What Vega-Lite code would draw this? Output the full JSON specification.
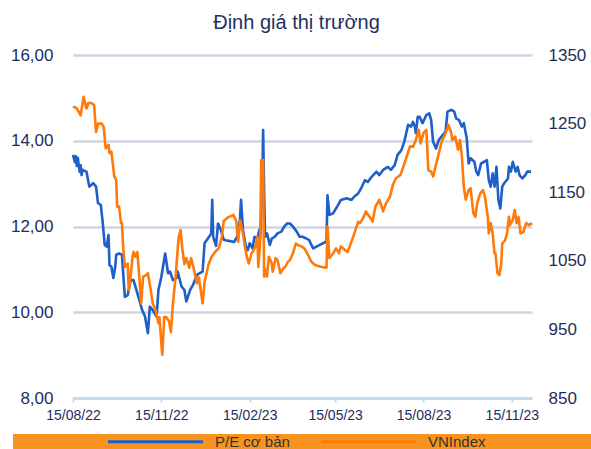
{
  "$schema": "https://vega.github.io/schema/vega-lite/v6.json",
  "width": 459,
  "height": 343,
  "autosize": {"type": "none"},
  "padding": {"left": 73, "top": 55, "right": 59, "bottom": 51},
  "background": "white",
  "title": {"text": "Định giá thị trường", "fontSize": 20, "font": "Liberation Sans", "fontWeight": "normal", "color": "#1f3060", "offset": 13, "anchor": "middle", "dx": -6},
  "datasets": {
    "pe": [
      {"date": "2022-08-15", "pe": 13.67}, {"date": "2022-08-17", "pe": 13.5}, {"date": "2022-08-18", "pe": 13.64}, {"date": "2022-08-19", "pe": 13.41}, {"date": "2022-08-20", "pe": 13.6}, {"date": "2022-08-22", "pe": 13.27}, {"date": "2022-08-23", "pe": 13.43}, {"date": "2022-08-24", "pe": 13.2}, {"date": "2022-08-25", "pe": 13.32}, {"date": "2022-08-29", "pe": 13.28},
      {"date": "2022-09-01", "pe": 12.93}, {"date": "2022-09-03", "pe": 12.97}, {"date": "2022-09-05", "pe": 13.01}, {"date": "2022-09-08", "pe": 12.93}, {"date": "2022-09-10", "pe": 12.55}, {"date": "2022-09-13", "pe": 12.5}, {"date": "2022-09-15", "pe": 12.08}, {"date": "2022-09-17", "pe": 11.57}, {"date": "2022-09-19", "pe": 11.53}, {"date": "2022-09-21", "pe": 11.8}, {"date": "2022-09-22", "pe": 11.1}, {"date": "2022-09-24", "pe": 11.06}, {"date": "2022-09-26", "pe": 10.8}, {"date": "2022-09-28", "pe": 11.06}, {"date": "2022-09-29", "pe": 11.34},
      {"date": "2022-10-02", "pe": 11.37}, {"date": "2022-10-05", "pe": 11.34}, {"date": "2022-10-06", "pe": 10.99}, {"date": "2022-10-08", "pe": 10.36}, {"date": "2022-10-11", "pe": 10.4}, {"date": "2022-10-14", "pe": 10.75}, {"date": "2022-10-17", "pe": 10.75}, {"date": "2022-10-20", "pe": 10.52}, {"date": "2022-10-24", "pe": 10.21}, {"date": "2022-10-26", "pe": 10.05}, {"date": "2022-10-29", "pe": 9.9},
      {"date": "2022-11-01", "pe": 9.51}, {"date": "2022-11-03", "pe": 10.13}, {"date": "2022-11-06", "pe": 10.05}, {"date": "2022-11-10", "pe": 9.9}, {"date": "2022-11-12", "pe": 10.52}, {"date": "2022-11-15", "pe": 10.83}, {"date": "2022-11-19", "pe": 11.37}, {"date": "2022-11-22", "pe": 10.91}, {"date": "2022-11-24", "pe": 10.95}, {"date": "2022-11-27", "pe": 10.75},
      {"date": "2022-12-01", "pe": 10.8}, {"date": "2022-12-02", "pe": 10.95}, {"date": "2022-12-06", "pe": 10.6}, {"date": "2022-12-09", "pe": 10.52}, {"date": "2022-12-11", "pe": 10.25}, {"date": "2022-12-15", "pe": 10.52}, {"date": "2022-12-18", "pe": 10.64}, {"date": "2022-12-22", "pe": 10.87}, {"date": "2022-12-25", "pe": 10.91}, {"date": "2022-12-28", "pe": 10.95}, {"date": "2022-12-30", "pe": 11.61},
      {"date": "2023-01-03", "pe": 11.74}, {"date": "2023-01-06", "pe": 11.84}, {"date": "2023-01-07", "pe": 12.62}, {"date": "2023-01-08", "pe": 11.76}, {"date": "2023-01-11", "pe": 11.55}, {"date": "2023-01-13", "pe": 12.07}, {"date": "2023-01-16", "pe": 11.92}, {"date": "2023-01-19", "pe": 11.69}, {"date": "2023-01-23", "pe": 11.67}, {"date": "2023-01-30", "pe": 11.64},
      {"date": "2023-02-02", "pe": 11.77}, {"date": "2023-02-05", "pe": 12.19}, {"date": "2023-02-06", "pe": 12.62}, {"date": "2023-02-08", "pe": 11.92}, {"date": "2023-02-11", "pe": 11.53}, {"date": "2023-02-13", "pe": 11.45}, {"date": "2023-02-15", "pe": 11.61}, {"date": "2023-02-18", "pe": 11.49}, {"date": "2023-02-20", "pe": 11.76}, {"date": "2023-02-23", "pe": 11.72}, {"date": "2023-02-25", "pe": 11.92}, {"date": "2023-02-26", "pe": 11.76}, {"date": "2023-02-28", "pe": 12.85},
      {"date": "2023-03-01", "pe": 14.25}, {"date": "2023-03-02", "pe": 12.85}, {"date": "2023-03-03", "pe": 11.76}, {"date": "2023-03-05", "pe": 11.84}, {"date": "2023-03-08", "pe": 11.57}, {"date": "2023-03-10", "pe": 11.72}, {"date": "2023-03-13", "pe": 11.76}, {"date": "2023-03-16", "pe": 11.84}, {"date": "2023-03-20", "pe": 11.88}, {"date": "2023-03-23", "pe": 12.0}, {"date": "2023-03-26", "pe": 12.07}, {"date": "2023-03-29", "pe": 12.07},
      {"date": "2023-04-01", "pe": 12.0}, {"date": "2023-04-05", "pe": 11.88}, {"date": "2023-04-08", "pe": 11.76}, {"date": "2023-04-11", "pe": 11.76}, {"date": "2023-04-15", "pe": 11.72}, {"date": "2023-04-18", "pe": 11.68}, {"date": "2023-04-22", "pe": 11.49}, {"date": "2023-04-29", "pe": 11.57},
      {"date": "2023-05-06", "pe": 11.65}, {"date": "2023-05-07", "pe": 12.73}, {"date": "2023-05-09", "pe": 12.27}, {"date": "2023-05-13", "pe": 12.31}, {"date": "2023-05-18", "pe": 12.5}, {"date": "2023-05-21", "pe": 12.62}, {"date": "2023-05-27", "pe": 12.66},
      {"date": "2023-06-01", "pe": 12.62}, {"date": "2023-06-04", "pe": 12.7}, {"date": "2023-06-08", "pe": 12.77}, {"date": "2023-06-11", "pe": 12.89}, {"date": "2023-06-15", "pe": 13.08}, {"date": "2023-06-18", "pe": 13.04}, {"date": "2023-06-22", "pe": 13.16}, {"date": "2023-06-27", "pe": 13.28}, {"date": "2023-06-30", "pe": 13.2},
      {"date": "2023-07-04", "pe": 13.32}, {"date": "2023-07-09", "pe": 13.39}, {"date": "2023-07-12", "pe": 13.32}, {"date": "2023-07-16", "pe": 13.43}, {"date": "2023-07-19", "pe": 13.67}, {"date": "2023-07-23", "pe": 13.78}, {"date": "2023-07-26", "pe": 13.98}, {"date": "2023-07-30", "pe": 14.37},
      {"date": "2023-08-02", "pe": 14.33}, {"date": "2023-08-04", "pe": 14.44}, {"date": "2023-08-06", "pe": 14.33}, {"date": "2023-08-07", "pe": 14.18}, {"date": "2023-08-09", "pe": 14.56}, {"date": "2023-08-11", "pe": 14.56}, {"date": "2023-08-14", "pe": 14.41}, {"date": "2023-08-18", "pe": 14.6}, {"date": "2023-08-21", "pe": 14.64}, {"date": "2023-08-23", "pe": 14.48}, {"date": "2023-08-25", "pe": 13.98}, {"date": "2023-08-28", "pe": 13.82}, {"date": "2023-08-31", "pe": 14.02},
      {"date": "2023-09-04", "pe": 14.13}, {"date": "2023-09-07", "pe": 14.21}, {"date": "2023-09-09", "pe": 14.68}, {"date": "2023-09-13", "pe": 14.72}, {"date": "2023-09-16", "pe": 14.68}, {"date": "2023-09-18", "pe": 14.52}, {"date": "2023-09-21", "pe": 14.48}, {"date": "2023-09-24", "pe": 14.33}, {"date": "2023-09-26", "pe": 14.41}, {"date": "2023-09-29", "pe": 14.06},
      {"date": "2023-10-01", "pe": 13.47}, {"date": "2023-10-03", "pe": 13.59}, {"date": "2023-10-07", "pe": 13.51}, {"date": "2023-10-09", "pe": 13.28}, {"date": "2023-10-11", "pe": 13.2}, {"date": "2023-10-14", "pe": 13.47}, {"date": "2023-10-17", "pe": 13.51}, {"date": "2023-10-20", "pe": 13.55}, {"date": "2023-10-22", "pe": 13.08}, {"date": "2023-10-24", "pe": 12.93}, {"date": "2023-10-26", "pe": 13.24}, {"date": "2023-10-28", "pe": 12.93}, {"date": "2023-10-30", "pe": 13.39},
      {"date": "2023-11-01", "pe": 12.62}, {"date": "2023-11-03", "pe": 12.42}, {"date": "2023-11-05", "pe": 12.93}, {"date": "2023-11-07", "pe": 13.01}, {"date": "2023-11-11", "pe": 13.12}, {"date": "2023-11-12", "pe": 13.39}, {"date": "2023-11-14", "pe": 13.28}, {"date": "2023-11-16", "pe": 13.51}, {"date": "2023-11-19", "pe": 13.28}, {"date": "2023-11-21", "pe": 13.39}, {"date": "2023-11-23", "pe": 13.2}, {"date": "2023-11-26", "pe": 13.12}, {"date": "2023-11-29", "pe": 13.2},
      {"date": "2023-12-01", "pe": 13.28}, {"date": "2023-12-05", "pe": 13.28}
    ],
    "vni": [
      {"date": "2022-08-15", "vni": 1275}, {"date": "2022-08-19", "vni": 1272}, {"date": "2022-08-23", "vni": 1262}, {"date": "2022-08-26", "vni": 1289}, {"date": "2022-08-29", "vni": 1272}, {"date": "2022-08-31", "vni": 1280},
      {"date": "2022-09-03", "vni": 1280}, {"date": "2022-09-06", "vni": 1277}, {"date": "2022-09-08", "vni": 1238}, {"date": "2022-09-10", "vni": 1250}, {"date": "2022-09-14", "vni": 1250}, {"date": "2022-09-16", "vni": 1245}, {"date": "2022-09-18", "vni": 1214}, {"date": "2022-09-21", "vni": 1219}, {"date": "2022-09-22", "vni": 1207}, {"date": "2022-09-24", "vni": 1209}, {"date": "2022-09-27", "vni": 1173}, {"date": "2022-09-29", "vni": 1168}, {"date": "2022-09-30", "vni": 1129},
      {"date": "2022-10-02", "vni": 1129}, {"date": "2022-10-04", "vni": 1105}, {"date": "2022-10-05", "vni": 1105}, {"date": "2022-10-06", "vni": 1075}, {"date": "2022-10-08", "vni": 1041}, {"date": "2022-10-11", "vni": 1046}, {"date": "2022-10-12", "vni": 1007}, {"date": "2022-10-14", "vni": 1027}, {"date": "2022-10-16", "vni": 1056}, {"date": "2022-10-17", "vni": 1063}, {"date": "2022-10-19", "vni": 1056}, {"date": "2022-10-21", "vni": 1063}, {"date": "2022-10-23", "vni": 1027}, {"date": "2022-10-25", "vni": 988}, {"date": "2022-10-27", "vni": 1027}, {"date": "2022-10-30", "vni": 1029},
      {"date": "2022-11-01", "vni": 1032}, {"date": "2022-11-04", "vni": 1007}, {"date": "2022-11-06", "vni": 988}, {"date": "2022-11-09", "vni": 978}, {"date": "2022-11-12", "vni": 959}, {"date": "2022-11-13", "vni": 968}, {"date": "2022-11-15", "vni": 930}, {"date": "2022-11-16", "vni": 913}, {"date": "2022-11-18", "vni": 968}, {"date": "2022-11-20", "vni": 968}, {"date": "2022-11-23", "vni": 962}, {"date": "2022-11-25", "vni": 946}, {"date": "2022-11-27", "vni": 986}, {"date": "2022-11-30", "vni": 1029},
      {"date": "2022-12-02", "vni": 1066}, {"date": "2022-12-03", "vni": 1083}, {"date": "2022-12-05", "vni": 1095}, {"date": "2022-12-07", "vni": 1066}, {"date": "2022-12-09", "vni": 1045}, {"date": "2022-12-11", "vni": 1054}, {"date": "2022-12-14", "vni": 1040}, {"date": "2022-12-16", "vni": 1054}, {"date": "2022-12-19", "vni": 1037}, {"date": "2022-12-22", "vni": 1017}, {"date": "2022-12-24", "vni": 1026}, {"date": "2022-12-28", "vni": 988}, {"date": "2022-12-30", "vni": 1019},
      {"date": "2023-01-03", "vni": 1044}, {"date": "2023-01-06", "vni": 1055}, {"date": "2023-01-10", "vni": 1063}, {"date": "2023-01-14", "vni": 1069}, {"date": "2023-01-17", "vni": 1085}, {"date": "2023-01-19", "vni": 1108}, {"date": "2023-01-23", "vni": 1113}, {"date": "2023-01-29", "vni": 1117},
      {"date": "2023-02-01", "vni": 1108}, {"date": "2023-02-03", "vni": 1078}, {"date": "2023-02-05", "vni": 1109}, {"date": "2023-02-08", "vni": 1090}, {"date": "2023-02-10", "vni": 1071}, {"date": "2023-02-12", "vni": 1056}, {"date": "2023-02-14", "vni": 1046}, {"date": "2023-02-17", "vni": 1061}, {"date": "2023-02-18", "vni": 1063}, {"date": "2023-02-21", "vni": 1071}, {"date": "2023-02-23", "vni": 1085}, {"date": "2023-02-24", "vni": 1041}, {"date": "2023-02-26", "vni": 1080}, {"date": "2023-02-27", "vni": 1197},
      {"date": "2023-03-01", "vni": 1197}, {"date": "2023-03-02", "vni": 1027}, {"date": "2023-03-04", "vni": 1037}, {"date": "2023-03-05", "vni": 1027}, {"date": "2023-03-07", "vni": 1056}, {"date": "2023-03-10", "vni": 1046}, {"date": "2023-03-11", "vni": 1034}, {"date": "2023-03-14", "vni": 1054}, {"date": "2023-03-16", "vni": 1051}, {"date": "2023-03-19", "vni": 1032}, {"date": "2023-03-22", "vni": 1039}, {"date": "2023-03-24", "vni": 1041}, {"date": "2023-03-27", "vni": 1049}, {"date": "2023-03-29", "vni": 1051},
      {"date": "2023-04-01", "vni": 1061}, {"date": "2023-04-04", "vni": 1075}, {"date": "2023-04-06", "vni": 1073}, {"date": "2023-04-10", "vni": 1071}, {"date": "2023-04-13", "vni": 1068}, {"date": "2023-04-17", "vni": 1058}, {"date": "2023-04-20", "vni": 1049}, {"date": "2023-04-24", "vni": 1044},
      {"date": "2023-05-01", "vni": 1041}, {"date": "2023-05-06", "vni": 1040}, {"date": "2023-05-07", "vni": 1100}, {"date": "2023-05-09", "vni": 1054}, {"date": "2023-05-13", "vni": 1061}, {"date": "2023-05-16", "vni": 1068}, {"date": "2023-05-19", "vni": 1061}, {"date": "2023-05-21", "vni": 1071}, {"date": "2023-05-25", "vni": 1066}, {"date": "2023-05-28", "vni": 1063},
      {"date": "2023-06-01", "vni": 1078}, {"date": "2023-06-04", "vni": 1090}, {"date": "2023-06-08", "vni": 1107}, {"date": "2023-06-10", "vni": 1105}, {"date": "2023-06-13", "vni": 1112}, {"date": "2023-06-16", "vni": 1122}, {"date": "2023-06-20", "vni": 1114}, {"date": "2023-06-23", "vni": 1107}, {"date": "2023-06-26", "vni": 1129}, {"date": "2023-06-30", "vni": 1139},
      {"date": "2023-07-04", "vni": 1122}, {"date": "2023-07-07", "vni": 1134}, {"date": "2023-07-11", "vni": 1143}, {"date": "2023-07-14", "vni": 1160}, {"date": "2023-07-17", "vni": 1170}, {"date": "2023-07-22", "vni": 1175}, {"date": "2023-07-25", "vni": 1187}, {"date": "2023-07-29", "vni": 1204},
      {"date": "2023-08-01", "vni": 1217}, {"date": "2023-08-04", "vni": 1216}, {"date": "2023-08-07", "vni": 1226}, {"date": "2023-08-10", "vni": 1241}, {"date": "2023-08-12", "vni": 1221}, {"date": "2023-08-15", "vni": 1236}, {"date": "2023-08-18", "vni": 1241}, {"date": "2023-08-20", "vni": 1182}, {"date": "2023-08-23", "vni": 1180}, {"date": "2023-08-25", "vni": 1173}, {"date": "2023-08-28", "vni": 1190}, {"date": "2023-08-31", "vni": 1207},
      {"date": "2023-09-03", "vni": 1224}, {"date": "2023-09-07", "vni": 1236}, {"date": "2023-09-10", "vni": 1248}, {"date": "2023-09-13", "vni": 1236}, {"date": "2023-09-14", "vni": 1226}, {"date": "2023-09-17", "vni": 1231}, {"date": "2023-09-20", "vni": 1212}, {"date": "2023-09-22", "vni": 1226}, {"date": "2023-09-24", "vni": 1202}, {"date": "2023-09-26", "vni": 1158}, {"date": "2023-09-28", "vni": 1139},
      {"date": "2023-10-01", "vni": 1153}, {"date": "2023-10-03", "vni": 1156}, {"date": "2023-10-06", "vni": 1119}, {"date": "2023-10-08", "vni": 1114}, {"date": "2023-10-10", "vni": 1134}, {"date": "2023-10-13", "vni": 1148}, {"date": "2023-10-16", "vni": 1153}, {"date": "2023-10-18", "vni": 1143}, {"date": "2023-10-21", "vni": 1114}, {"date": "2023-10-22", "vni": 1090}, {"date": "2023-10-24", "vni": 1105}, {"date": "2023-10-26", "vni": 1090}, {"date": "2023-10-28", "vni": 1061}, {"date": "2023-10-29", "vni": 1061}, {"date": "2023-10-31", "vni": 1032},
      {"date": "2023-11-02", "vni": 1029}, {"date": "2023-11-04", "vni": 1046}, {"date": "2023-11-05", "vni": 1075}, {"date": "2023-11-08", "vni": 1080}, {"date": "2023-11-10", "vni": 1090}, {"date": "2023-11-12", "vni": 1114}, {"date": "2023-11-13", "vni": 1102}, {"date": "2023-11-16", "vni": 1110}, {"date": "2023-11-18", "vni": 1124}, {"date": "2023-11-20", "vni": 1105}, {"date": "2023-11-22", "vni": 1114}, {"date": "2023-11-24", "vni": 1090}, {"date": "2023-11-27", "vni": 1092}, {"date": "2023-11-30", "vni": 1105},
      {"date": "2023-12-03", "vni": 1102}, {"date": "2023-12-06", "vni": 1105}
    ]
  },
  "layer": [
    {
      "data": {"name": "pe"},
      "mark": {"type": "line", "strokeWidth": 2.6, "strokeJoin": "round"},
      "encoding": {
        "x": {
          "field": "date", "type": "temporal",
          "scale": {"type": "utc", "domain": ["2022-08-15", "2023-12-06"]},
          "axis": {
            "title": null,
            "labelExpr": "utcFormat(datum.value, '%d/%m/%y')",
            "values": ["2022-08-15", "2022-11-15", "2023-02-15", "2023-05-15", "2023-08-15", "2023-11-15"],
            "labelFlush": false, "labelOverlap": false,
            "grid": false, "domainColor": "#c6d9f1", "domainWidth": 3, "tickColor": "#c6d9f1", "tickWidth": 2, "tickSize": 4,
            "labelFont": "Liberation Sans", "labelFontSize": 14, "labelColor": "#1f2d5c", "labelPadding": 6, "zindex": 1
          }
        },
        "y": {
          "field": "pe", "type": "quantitative",
          "scale": {"domain": [8, 16], "nice": false, "zero": false},
          "axis": {
            "title": null, "orient": "left", "values": [8, 10, 12, 14, 16],
            "labelExpr": "replace(format(datum.value, '.2f'), '.', ',')",
            "grid": true, "gridColor": "#d0d5df", "gridWidth": 2.5, "domain": false, "ticks": false,
            "labelFont": "Liberation Sans", "labelFontSize": 17, "labelColor": "#1f2d5c", "labelPadding": 20
          }
        },
        "color": {
          "datum": "P/E cơ bản", "type": "nominal",
          "scale": {"domain": ["P/E cơ bản", "VNIndex", "\u00a0"], "range": ["#1f5fc8", "#ff7a0a", "rgba(0,0,0,0)"]},
          "legend": {
            "orient": "none", "legendX": -60, "legendY": 379, "direction": "horizontal",
            "title": "\u00a0", "titleOrient": "left", "titlePadding": 135, "titleFontSize": 14,
            "symbolType": "M-10,0H10", "symbolSize": 90.25, "symbolStrokeWidth": 3,
            "labelFont": "Liberation Sans", "labelFontSize": 15, "labelColor": "#333333", "labelOffset": 52,
            "columnPadding": 25, "gridAlign": "all", "padding": 0,
            "fillColor": "#f7931e"
          }
        }
      }
    },
    {
      "data": {"name": "vni"},
      "mark": {"type": "line", "strokeWidth": 2.6, "strokeJoin": "round"},
      "encoding": {
        "x": {"field": "date", "type": "temporal"},
        "y": {
          "field": "vni", "type": "quantitative",
          "scale": {"domain": [850, 1350], "nice": false, "zero": false},
          "axis": {
            "title": null, "orient": "right", "values": [850, 950, 1050, 1150, 1250, 1350], "format": "d",
            "grid": false, "domain": false, "ticks": false,
            "labelFont": "Liberation Sans", "labelFontSize": 17, "labelColor": "#1f2d5c", "labelPadding": 16
          }
        },
        "color": {"datum": "VNIndex", "type": "nominal"}
      }
    }
  ],
  "resolve": {"scale": {"y": "independent"}},
  "config": {"view": {"stroke": null}}
}
